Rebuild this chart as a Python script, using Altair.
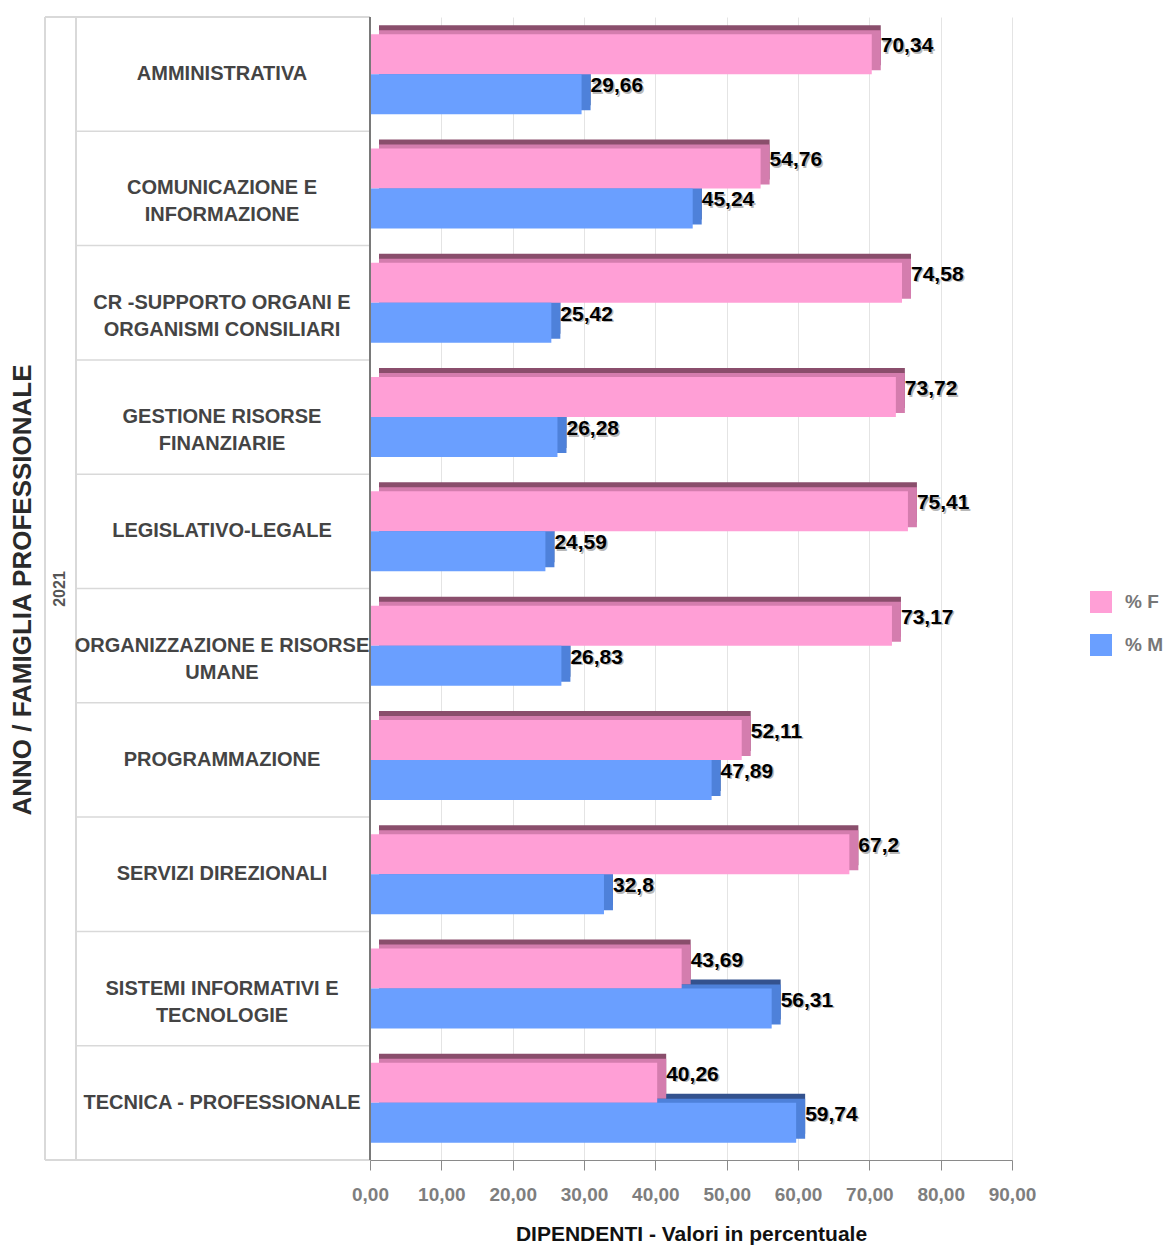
import altair as alt
import pandas as pd

# ---- data ----
categories = [
    "AMMINISTRATIVA",
    "COMUNICAZIONE E\nINFORMAZIONE",
    "CR -SUPPORTO ORGANI E\nORGANISMI CONSILIARI",
    "GESTIONE RISORSE\nFINANZIARIE",
    "LEGISLATIVO-LEGALE",
    "ORGANIZZAZIONE E RISORSE\nUMANE",
    "PROGRAMMAZIONE",
    "SERVIZI DIREZIONALI",
    "SISTEMI INFORMATIVI E\nTECNOLOGIE",
    "TECNICA - PROFESSIONALE",
]
series = ["% F", "% M"]
pct_f = [70.34, 54.76, 74.58, 73.72, 75.41, 73.17, 52.11, 67.2, 43.69, 40.26]
pct_m = [29.66, 45.24, 25.42, 26.28, 24.59, 26.83, 47.89, 32.8, 56.31, 59.74]
x_ticks = [0, 10, 20, 30, 40, 50, 60, 70, 80, 90]
year_label = "2021"
row_title = "ANNO / FAMIGLIA PROFESSIONALE"
x_title = "DIPENDENTI - Valori in percentuale"

rows = []
for c, f, m in zip(categories, pct_f, pct_m):
    rows.append({"cat": c, "series": series[0], "value": f, "label": str(f).replace(".", ",")})
    rows.append({"cat": c, "series": series[1], "value": m, "label": str(m).replace(".", ",")})
df = pd.DataFrame(rows)
cat_df = pd.DataFrame({"cat": categories})

# ---- styling ----
W, H = 642, 1143
BAR = 40          # bar thickness in px
D = 9             # 3D depth in px
FRONT = {"% F": "#FF9FD6", "% M": "#6A9FFF"}
TOP = {"% F": "#8A4E6C", "% M": "#34528E"}
SIDE = {"% F": "#D47DAE", "% M": "#4E81DA"}
OFF = {"% F": -BAR / 2, "% M": BAR / 2}
LINE = "#D9D9D9"
FONT = "Liberation Sans"

band_scale = alt.Scale(paddingInner=0, paddingOuter=0)
y_enc = alt.Y("cat:N", sort=categories, scale=band_scale, axis=None)
x_enc = alt.X(
    "value:Q",
    scale=alt.Scale(domain=[0, 90], nice=False, zero=True),
    axis=alt.Axis(
        values=x_ticks,
        labelExpr="replace(format(datum.value, '.2f'), '.', ',')",
        labelFlush=False, labelOverlap=False,
        grid=True, gridColor="#E4E4E4", gridWidth=1,
        domainColor="#8A8A8A", tickColor="#8A8A8A", tickSize=10,
        labelFont=FONT, labelFontWeight="bold", labelFontSize=19, labelColor="#7E7E7E",
        labelPadding=15,
        title=x_title, titleFont=FONT, titleFontWeight="bold", titleFontSize=21,
        titleColor="#111111", titlePadding=19,
    ),
)

base = alt.Chart(df).encode(x=x_enc, y=y_enc)


def sub(s):
    return base.transform_filter(alt.datum.series == s)


back_top = [
    sub(s).mark_bar(size=BAR, xOffset=D, x2Offset=D, yOffset=OFF[s] - D, color=TOP[s])
    for s in series
]
back_side = [
    sub(s).mark_bar(size=BAR, xOffset=D, x2Offset=D, yOffset=OFF[s] - 4, color=SIDE[s])
    for s in series
]
front = [
    sub(s).mark_bar(size=BAR, yOffset=OFF[s]).encode(
        color=alt.Color(
            "series:N",
            sort=series,
            scale=alt.Scale(domain=series, range=[FRONT[k] for k in series]),
            legend=alt.Legend(
                title=None, orient="none", legendX=720, legendY=574,
                symbolType="square", symbolSize=484, symbolStrokeWidth=0,
                labelFont=FONT, labelFontWeight="bold", labelFontSize=19, labelColor="#777777",
                rowPadding=21, labelOffset=13,
            ),
        )
    )
    for s in series
]
shadows = [
    sub(s).mark_text(align="left", baseline="middle", dx=D + 1.5, dy=OFF[s] - 6.5, font=FONT,
                     fontSize=21, fontWeight="bold", color="#8A8A8A", opacity=0.6).encode(text="label:N")
    for s in series
]
labels = [
    sub(s).mark_text(align="left", baseline="middle", dx=D, dy=OFF[s] - 8, font=FONT,
                     fontSize=21, fontWeight="bold", color="#000000").encode(text="label:N")
    for s in series
]

# ---- left table ----
cbase = alt.Chart(cat_df)
row_lines = cbase.mark_rule(color=LINE, strokeWidth=1.5).encode(
    y=alt.Y("cat:N", sort=categories, bandPosition=0, scale=band_scale, axis=None),
    x=alt.value(-294), x2=alt.value(0),
)
frame_top = cbase.mark_rule(color=LINE, strokeWidth=1.5).encode(
    y=alt.value(0), x=alt.value(-325), x2=alt.value(0))
frame_bottom = cbase.mark_rule(color=LINE, strokeWidth=1.5).encode(
    y=alt.value(H), x=alt.value(-325), x2=alt.value(0))
frame_left = cbase.mark_rule(color=LINE, strokeWidth=1.5).encode(
    x=alt.value(-325), y=alt.value(0), y2=alt.value(H))
frame_inner = cbase.mark_rule(color=LINE, strokeWidth=1.5).encode(
    x=alt.value(-294), y=alt.value(0), y2=alt.value(H))
y_axis_line = cbase.mark_rule(color="#7A7A7A", strokeWidth=1.5).encode(
    x=alt.value(0), y=alt.value(0), y2=alt.value(H))
cat_text = cbase.mark_text(align="center", baseline="middle", lineBreak="\n", lineHeight=27,
                           font=FONT, fontSize=20, fontWeight="bold", color="#444444").encode(
    y=y_enc, x=alt.value(-148), text="cat:N",
)
year_text = alt.Chart(pd.DataFrame({"t": [year_label]})).mark_text(
    angle=270, align="center", baseline="middle", font=FONT, fontSize=16, fontWeight="bold",
    color="#555555").encode(x=alt.value(-310), y=alt.value(572), text="t:N")
title_text = alt.Chart(pd.DataFrame({"t": [row_title]})).mark_text(
    angle=270, align="center", baseline="middle", font=FONT, fontSize=26, fontWeight="bold",
    color="#2A2A2A").encode(x=alt.value(-347), y=alt.value(573), text="t:N")

chart = alt.layer(
    row_lines, frame_top, frame_bottom, frame_left, frame_inner,
    *back_top, *back_side, *front, y_axis_line, *shadows, *labels,
    cat_text, year_text, title_text,
).properties(
    width=W, height=H,
    autosize=alt.AutoSizeParams(type="none"),
    padding={"left": 370, "top": 17, "right": 159, "bottom": 89},
    background="white",
).configure_view(stroke=None)

chart.save("out.html", embed_options={"renderer": "svg", "actions": False})
